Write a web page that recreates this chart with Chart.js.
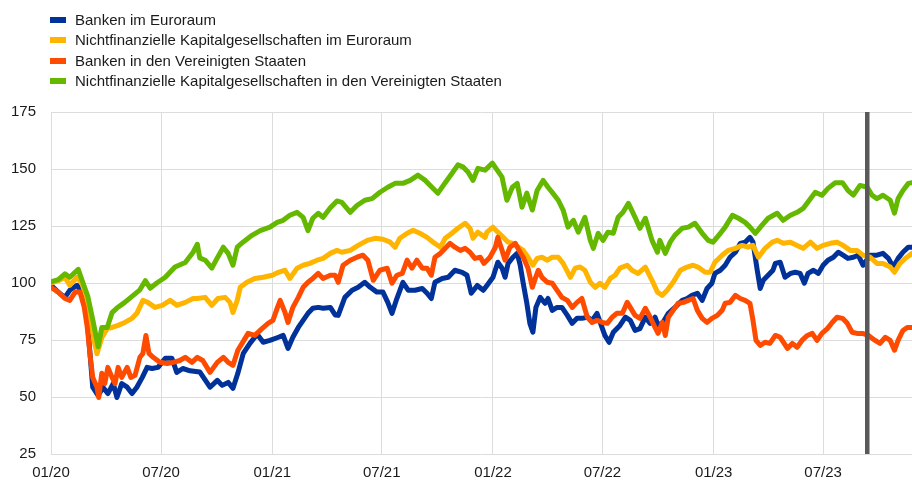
<!DOCTYPE html>
<html><head><meta charset="utf-8">
<script src="https://cdn.jsdelivr.net/npm/chart.js@4.4.0/dist/chart.umd.min.js"></script>
<style>
html,body{margin:0;padding:0;background:#fff;}
#wrap{position:relative;width:912px;height:482px;overflow:hidden;}
#legend{position:absolute;left:50px;top:9.7px;font:15px "Liberation Sans",Arial,sans-serif;color:#1a1a1a;}
.item{position:relative;height:20.6px;line-height:20.6px;padding-left:25px;white-space:nowrap;}
.sw{position:absolute;left:0;top:7px;width:16px;height:6px;}
canvas{position:absolute;left:0;top:0;}
</style></head>
<body>
<div id="wrap">
<canvas id="c" width="912" height="482"></canvas>
<div id="legend"></div>
</div>
<script>
// x values: days since 1 January 2020; y values: index
const seriesNames = [
  'Banken im Euroraum',
  'Nichtfinanzielle Kapitalgesellschaften im Euroraum',
  'Banken in den Vereinigten Staaten',
  'Nichtfinanzielle Kapitalgesellschaften in den Vereinigten Staaten'
];
const tickDays = [0, 182, 366, 547, 731, 912, 1096, 1277];
const tickLabels = ['01/20', '07/20', '01/21', '07/21', '01/22', '07/22', '01/23', '07/23'];
const lastDay = 1424;
const markerDay = 1350;

const banksEA = [[0,99],[12,96],[23,93.7],[31,96.8],[43,99],[51,96],[60,83.6],[65,67.4],[69,54.3],[78,50.6],[86,54.3],[94,51.5],[103,55.9],[109,49.8],[117,55.9],[126,54.3],[134,51.5],[142,54.3],[151,58.6],[159,63],[167,62.5],[177,63],[189,67],[200,67],[208,60.8],[218,62.5],[230,61.5],[246,61],[263,54.3],[275,57.3],[283,55.1],[293,56.4],[301,53.8],[309,60.4],[318,69.1],[329,73.5],[341,77.5],[351,74],[362,74.8],[374,76],[384,77],[392,71.3],[400,76.2],[409,80.5],[417,83.6],[425,86.7],[433,88.9],[442,89.3],[450,88.9],[462,89.3],[470,86],[475,85.8],[486,93.7],[498,96.8],[508,98.1],[519,100.3],[528,98.1],[539,96],[549,96],[557,91.5],[564,86.7],[572,93.2],[582,100.3],[591,96.8],[602,96.8],[614,97.6],[622,95.5],[629,93.2],[635,100.3],[647,102],[657,102.5],[668,105.6],[680,104.7],[688,103.4],[695,95.5],[705,98.9],[715,96.8],[721,98.9],[731,102.5],[739,109.1],[746,106.5],[751,102.5],[756,108.6],[764,111.3],[771,113],[776,107.8],[781,99.9],[787,91.1],[792,82.3],[797,78.4],[802,89.3],[809,93.7],[817,91.1],[822,93.2],[829,88],[837,89.3],[845,89.3],[854,85.8],[862,82.3],[870,84.5],[878,84.5],[887,85],[895,83.6],[903,86.7],[912,80],[916,77],[923,74],[930,78.4],[941,81.4],[950,85],[958,83.6],[966,79.2],[974,80],[983,85],[991,82.3],[999,85],[1004,81.4],[1012,82.7],[1021,86.7],[1032,89.3],[1044,92.4],[1052,93.2],[1060,94.6],[1069,95.5],[1077,92.4],[1085,97.6],[1093,99.9],[1098,104.2],[1107,105.6],[1115,107.8],[1123,111.3],[1132,113.5],[1140,117.4],[1148,117.9],[1156,120],[1161,117.9],[1168,105.6],[1173,97.6],[1178,101.2],[1186,103.4],[1194,105.6],[1198,108.6],[1206,109.1],[1214,102.5],[1223,104.2],[1231,104.7],[1239,104.2],[1246,99.9],[1252,104.2],[1261,105.6],[1269,104.2],[1277,107.8],[1285,110],[1294,111.3],[1302,113.5],[1310,112.2],[1318,110.8],[1327,111.3],[1335,112.2],[1343,107.8],[1355,112.2],[1366,112.2],[1376,113],[1385,110.8],[1393,107],[1401,110.8],[1409,113.5],[1418,115.7],[1424,115.7]];

const nfcEA = [[0,100],[12,101],[23,102.5],[31,99],[43,102.5],[51,100],[60,92.4],[68,79],[76,69],[84,76],[93,80],[101,80.5],[111,81.4],[122,82.7],[134,84.5],[142,86.7],[152,92.4],[160,91.5],[172,89.3],[184,90.2],[197,92.4],[208,90.2],[222,91.5],[235,93.2],[242,93.2],[255,93.7],[266,90.2],[276,93.2],[288,93.7],[296,91.5],[301,87.1],[308,92.4],[313,98.1],[324,100.3],[337,102],[351,102.5],[366,103.4],[376,104.7],[387,105.6],[395,102],[407,106.5],[417,107.8],[428,108.6],[440,110],[450,110.8],[462,113],[473,114.3],[481,113.5],[495,114.3],[508,116.5],[523,118.7],[536,119.6],[549,119.2],[561,117.9],[569,115.7],[577,119.6],[589,121.8],[599,123.1],[610,121.8],[622,120],[632,117.9],[644,115.7],[652,119.6],[663,121.8],[673,124],[685,126.2],[693,124],[698,119.6],[706,122.3],[718,120],[721,122.3],[731,124.5],[739,122.3],[748,120],[756,117.9],[764,117.4],[773,115.7],[781,114.3],[789,111.3],[797,107.8],[804,110.8],[812,111.3],[821,110],[829,111.3],[839,111.3],[847,108.6],[859,102.5],[867,106.5],[875,107],[883,105.6],[892,100.3],[900,98.1],[908,99.9],[916,98.1],[925,102],[933,103.4],[941,106.5],[953,107.8],[961,105.6],[971,104.2],[983,107],[994,101.2],[1003,96],[1011,94.6],[1019,96.8],[1029,100.3],[1041,105.6],[1052,107],[1062,107.8],[1070,107],[1082,104.7],[1090,104.7],[1098,109.1],[1110,112.2],[1120,114.3],[1132,115.2],[1143,116.5],[1153,115.7],[1161,116.5],[1170,111.3],[1181,115.2],[1193,117.9],[1201,118.7],[1211,117.4],[1223,117.9],[1234,116.5],[1244,115.2],[1256,117.9],[1267,115.2],[1277,116.5],[1289,117.4],[1300,117.9],[1310,116.5],[1322,114.3],[1333,114.3],[1343,112.2],[1355,111.3],[1366,108.6],[1376,108.6],[1388,107],[1395,104.7],[1404,108.6],[1413,110.8],[1424,113]];

const banksUS = [[0,98.1],[12,96],[23,93.2],[31,92.4],[40,96],[48,96],[55,89.3],[60,80.5],[65,67.4],[69,58.6],[76,54.3],[79,49.8],[84,60.4],[89,55.9],[94,63],[101,58.6],[106,55.9],[111,63],[117,58.6],[126,63],[132,58.6],[139,59.5],[147,67.4],[152,69.1],[157,77],[162,69.1],[169,67.4],[180,65.2],[192,64.7],[202,65.2],[213,66],[222,67.4],[233,65.2],[242,67.4],[251,66],[263,60.8],[275,65.2],[285,67.4],[293,65.2],[301,63.9],[309,70.5],[316,73.5],[326,77.9],[337,77],[349,80],[359,82.3],[367,83.6],[374,88.9],[379,92.4],[387,87.1],[392,82.7],[400,89.3],[409,93.7],[417,98.1],[425,100.3],[433,102],[442,104.2],[450,102],[462,103.4],[470,103.4],[475,100.3],[483,107.8],[495,110],[506,111.3],[516,112.2],[524,110],[533,101.2],[544,105.6],[556,106.5],[564,99.9],[572,103.4],[581,104.2],[589,110],[597,106.5],[605,110],[614,106.5],[622,106.5],[629,103.4],[635,111.3],[644,113],[652,115.2],[660,117.4],[668,115.7],[677,114.3],[685,115.2],[693,113.5],[701,110.8],[710,111.3],[716,108.6],[726,111.3],[735,115.7],[739,120],[746,114.3],[751,110],[759,115.7],[768,117.4],[774,114.3],[781,111.3],[789,106.5],[796,98.1],[801,102],[806,105.6],[812,102.5],[821,100.3],[829,99.9],[837,96.8],[845,93.7],[854,92.4],[862,89.3],[870,91.5],[878,93.2],[887,85],[895,82.7],[903,83.6],[912,82.7],[920,82.3],[928,85],[936,86.7],[945,86.7],[953,91.5],[958,89.3],[966,85.8],[974,84.5],[983,88.9],[991,85],[999,80.5],[1004,77.9],[1011,82.7],[1016,77],[1021,85],[1029,88],[1037,91.1],[1046,91.5],[1054,92.4],[1062,93.2],[1069,88],[1077,84.5],[1085,82.7],[1093,84.5],[1102,85.8],[1110,88],[1115,91.1],[1123,91.5],[1132,94.6],[1140,93.2],[1148,92.4],[1156,91.1],[1161,83.6],[1166,74.8],[1173,72.6],[1181,74],[1189,73.5],[1198,77],[1206,76.2],[1218,71.3],[1226,73.5],[1234,71.8],[1242,74.8],[1251,77],[1259,77.9],[1267,74.8],[1275,77.9],[1284,80],[1292,82.7],[1300,85],[1309,84.5],[1317,82.3],[1325,78.4],[1333,77.9],[1342,77.9],[1352,77],[1363,74.8],[1371,73.5],[1380,76.2],[1388,74.8],[1395,70.5],[1401,74.8],[1409,79.2],[1416,80.5],[1424,80.5]];

const nfcUS = [[0,100.5],[12,101.5],[23,104],[31,102.5],[45,106],[53,100],[61,94],[69,84],[78,72],[84,80.5],[93,80.5],[101,87],[109,89],[122,91.5],[136,94.6],[147,97],[156,101],[164,97.7],[175,100],[189,102.5],[205,107],[222,109],[235,113.5],[242,117],[246,111],[255,110],[266,106.5],[275,111],[285,115.7],[293,113],[301,107.8],[308,115.7],[318,118],[333,121],[346,123],[362,124.5],[374,126.6],[384,127.5],[395,129.7],[407,131],[417,128.8],[425,123],[433,128.4],[442,130.6],[450,128.8],[462,133],[473,136],[481,135.4],[495,131],[506,134],[519,136.3],[531,137],[544,139.8],[557,142],[569,143.7],[582,143.7],[594,145],[607,147.3],[619,145],[630,142],[640,139.4],[652,144],[663,148],[673,151.8],[682,150.8],[690,148.6],[698,145],[706,150.3],[718,149.5],[730,152.6],[738,149.5],[746,146.4],[754,136.3],[763,142],[771,143.7],[779,133.2],[787,139.4],[796,132],[804,140.6],[814,145],[822,142],[830,139.4],[839,136.3],[847,132],[855,124.5],[864,127.5],[872,122.3],[883,128.8],[892,118.7],[897,115.2],[905,121.8],[913,118.7],[921,122.3],[930,121.8],[938,128.8],[946,131],[955,134.9],[966,128.8],[974,124],[983,128.4],[994,118.7],[1003,113.5],[1007,118.7],[1016,113],[1024,117.9],[1032,121],[1044,124],[1054,124.5],[1065,126.2],[1077,121.8],[1087,118.7],[1095,117.9],[1107,121.8],[1115,124.5],[1127,129.7],[1137,128.4],[1148,126.6],[1156,124.5],[1165,121.8],[1176,125.4],[1186,128.4],[1201,130.6],[1211,127.5],[1223,129.7],[1234,131],[1244,132.7],[1256,137],[1264,139.8],[1275,138.5],[1285,141.5],[1297,144],[1309,144],[1318,140.6],[1327,138.5],[1338,142.8],[1350,142],[1358,138.5],[1366,137],[1376,138.5],[1388,136.3],[1395,130.6],[1401,137],[1409,140.6],[1418,143.7],[1424,144]];

const seriesData = [banksEA, nfcEA, banksUS, nfcUS];
const colors = ['#003299', '#FFB400', '#FF4B00', '#65B800'];
const drawOrder = [4, 3, 2, 1]; // higher drawn first

// HTML legend
const lg = document.getElementById('legend');
seriesNames.forEach((n, i) => {
  const d = document.createElement('div'); d.className = 'item';
  const s = document.createElement('span'); s.className = 'sw'; s.style.background = colors[i];
  d.appendChild(s); d.appendChild(document.createTextNode(n)); lg.appendChild(d);
});

Chart.defaults.font.family = '"Liberation Sans", Arial, sans-serif';
const datasets = seriesData.map((arr, i) => ({
  label: seriesNames[i],
  data: arr.map(p => ({x: p[0], y: p[1]})),
  borderColor: colors[i], backgroundColor: colors[i],
  borderWidth: 5, pointRadius: 0, tension: 0,
  borderJoinStyle: 'round', borderCapStyle: 'round',
  order: drawOrder[i]
}));
datasets.push({
  label: 'marker',
  data: [{x: markerDay, y: 25}, {x: markerDay, y: 175}],
  borderColor: '#595959', borderWidth: 4.5, pointRadius: 0, order: 0, clip: false
});

new Chart(document.getElementById('c'), {
  type: 'line',
  data: {datasets},
  options: {
    responsive: false, animation: false,
    layout: {padding: {left: 0, right: 0, top: 112, bottom: 0}},
    plugins: {legend: {display: false}, tooltip: {enabled: false}},
    scales: {
      x: {
        type: 'linear', min: 0, max: lastDay,
        afterBuildTicks: s => { s.ticks = tickDays.map(v => ({value: v})); },
        afterFit: s => { s.height = 28; },
        ticks: {
          callback: v => tickLabels[tickDays.indexOf(v)],
          autoSkip: false, maxRotation: 0, padding: 10,
          color: '#1a1a1a', font: {size: 15}
        },
        grid: {color: '#dcdcdc', lineWidth: 1, drawTicks: false},
        border: {display: false}
      },
      y: {
        min: 25, max: 175,
        afterFit: s => { s.width = 51; },
        ticks: {stepSize: 25, padding: 15, color: '#1a1a1a', font: {size: 15}},
        grid: {color: '#dcdcdc', lineWidth: 1, drawTicks: false},
        border: {display: false}
      }
    }
  }
});
</script>
</body></html>
